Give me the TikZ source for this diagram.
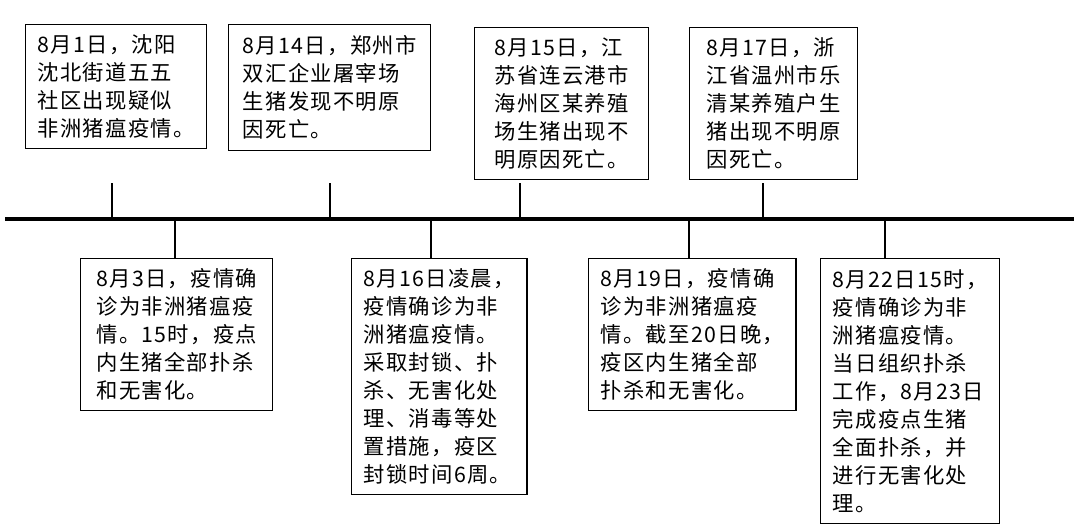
\documentclass[tikz,border=0pt]{standalone}
\usepackage{fontspec}
\setmainfont{Noto Sans CJK SC}[LetterSpace=6]
\tikzset{
  eventbox/.style={draw, line width=1.1pt, anchor=north west, inner xsep=9pt,
    inner ysep=2pt, align=left, font=\fontsize{16}{21}\selectfont},
  tick/.style={line width=2.2pt},
  axisline/.style={line width=2.6pt}
}
\begin{document}
\begin{tikzpicture}[x=0.75pt,y=-0.75pt]
\useasboundingbox (0,0) rectangle (1080,525);
% Time axis
\coordinate (axisL) at (5,219);
\coordinate (axisR) at (1074,219);
\draw[axisline] (axisL) -- (axisR);
% events above the axis
\node[eventbox, minimum width=177*0.75pt, minimum height=124*0.75pt] (b1) at (25,24)
  {8月1日，沈阳\\沈北街道五五\\社区出现疑似\\非洲猪瘟疫情。};
\node[eventbox, minimum width=202*0.75pt, minimum height=126*0.75pt] (b2) at (228,24)
  {8月14日，郑州市\\双汇企业屠宰场\\生猪发现不明原\\因死亡。};
\node[eventbox, minimum width=174*0.75pt, minimum height=152*0.75pt] (b3) at (474,27)
  {8月15日，江\\苏省连云港市\\海州区某养殖\\场生猪出现不\\明原因死亡。};
\node[eventbox, minimum width=168*0.75pt, minimum height=152*0.75pt] (b4) at (689,27)
  {8月17日，浙\\江省温州市乐\\清某养殖户生\\猪出现不明原\\因死亡。};
% events below the axis
\node[eventbox, minimum width=192*0.75pt, minimum height=152*0.75pt] (b5) at (80,258)
  {8月3日，疫情确\\诊为非洲猪瘟疫\\情。15时，疫点\\内生猪全部扑杀\\和无害化。};
\node[eventbox, minimum width=171*0.75pt, minimum height=236*0.75pt] (b6) at (351,258)
  {8月16日凌晨，\\疫情确诊为非\\洲猪瘟疫情。\\采取封锁、扑\\杀、无害化处\\理、消毒等处\\置措施，疫区\\封锁时间6周。};
\node[eventbox, minimum width=204*0.75pt, minimum height=152*0.75pt] (b7) at (588,258)
  {8月19日，疫情确\\诊为非洲猪瘟疫\\情。截至20日晚，\\疫区内生猪全部\\扑杀和无害化。};
\node[eventbox, minimum width=179*0.75pt, minimum height=265*0.75pt] (b8) at (820,258)
  {8月22日15时，\\疫情确诊为非\\洲猪瘟疫情。\\当日组织扑杀\\工作，8月23日\\完成疫点生猪\\全面扑杀，并\\进行无害化处\\理。};
% ticks
\foreach \x in {112,330,520,763}
  \draw[tick] (\x,183) -- (\x,219);
\foreach \x/\b in {175/b5,431/b6,689/b7,885/b8}
  \draw[tick] (axisL -| \x,0) -- (\b.north -| \x,0);
\end{tikzpicture}
\end{document}
